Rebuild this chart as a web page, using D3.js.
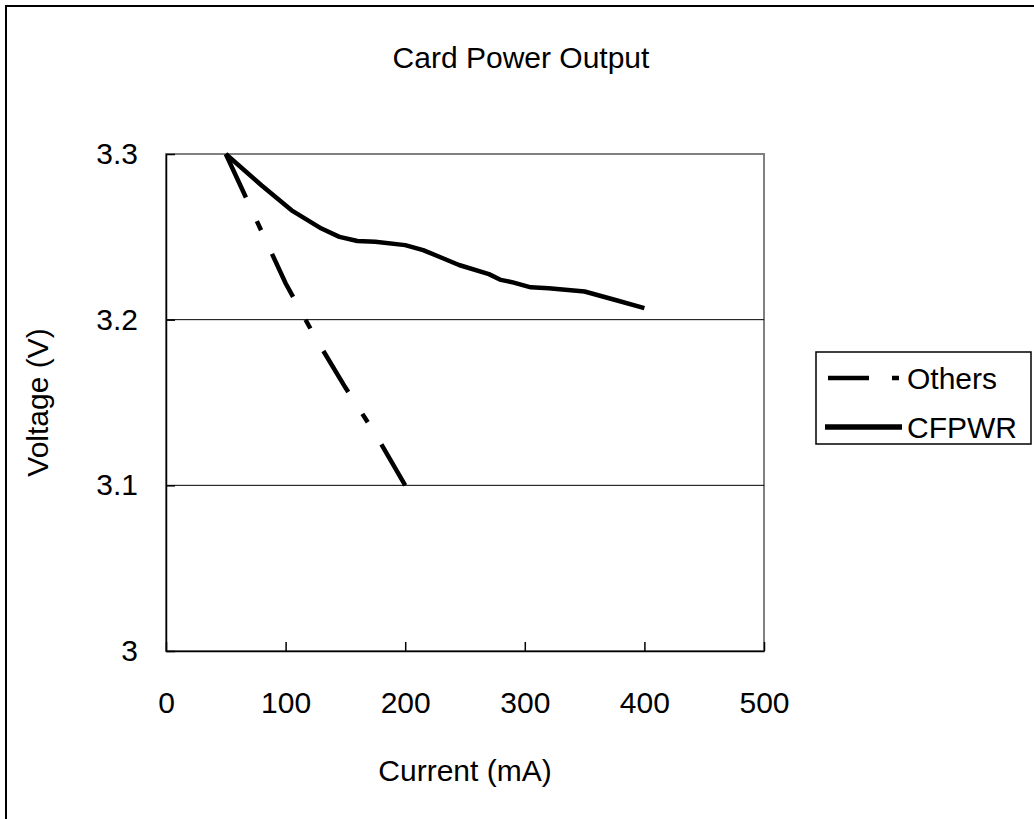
<!DOCTYPE html>
<html>
<head>
<meta charset="utf-8">
<script src="https://cdn.jsdelivr.net/npm/d3@7"></script>
<style>
  body { margin: 0; background: #fff; }
  svg { display: block; font-family: "Liberation Sans", Arial, sans-serif; }
</style>
</head>
<body>
<svg id="chart" width="1034" height="819"></svg>
<script>
// data
const othersData = [
  [50, 3.300], [75, 3.261], [100, 3.222], [125, 3.189],
  [150, 3.159], [175, 3.131], [200, 3.100],
];
const cfpwrData = [
  [50, 3.300], [80, 3.281], [105, 3.266], [130, 3.255], [145, 3.250],
  [160, 3.2475], [175, 3.247], [200, 3.245], [215, 3.242], [230, 3.2375],
  [245, 3.233], [270, 3.2275], [280, 3.224], [290, 3.2225], [305, 3.2195],
  [320, 3.219], [350, 3.217], [375, 3.212], [400, 3.207],
];
const xTicks = [0, 100, 200, 300, 400, 500];
const yTicks = [3, 3.1, 3.2, 3.3];
const yTickLabels = ['3', '3.1', '3.2', '3.3'];
const seriesNames = ['Others', 'CFPWR'];

const svg = d3.select('#chart');
const fontSize = 30;

const x = d3.scaleLinear().domain([0, 500]).range([166, 764]);
const y = d3.scaleLinear().domain([3, 3.3]).range([651, 154]);

// outer chart frame (only left and top edges are visible)
svg.append('rect')
  .attr('x', 6).attr('y', 6)
  .attr('width', 1100).attr('height', 900)
  .attr('fill', 'none')
  .attr('stroke', '#000')
  .attr('stroke-width', 2);

// title
svg.append('text')
  .attr('x', 521).attr('y', 68)
  .attr('text-anchor', 'middle')
  .style('font-size', fontSize + 'px')
  .text('Card Power Output');

// plot frame (grey top / right)
svg.append('rect')
  .attr('x', x(0)).attr('y', y(3.3))
  .attr('width', x(500) - x(0))
  .attr('height', y(3) - y(3.3))
  .attr('fill', 'none')
  .attr('stroke', '#808080')
  .attr('stroke-width', 2);

// gridlines
svg.append('g')
  .selectAll('line')
  .data(yTicks.filter((d) => d > 3 && d < 3.3))
  .join('line')
  .attr('x1', x(0)).attr('x2', x(500))
  .attr('y1', (d) => y(d)).attr('y2', (d) => y(d))
  .attr('stroke', '#000')
  .attr('stroke-width', 1);

// axes, ticks pointing inward
const xAxis = svg.append('g')
  .attr('transform', `translate(0,${y(3)})`)
  .call(
    d3.axisBottom(x)
      .tickValues(xTicks)
      .tickSizeInner(-9)
      .tickSizeOuter(0)
      .tickPadding(41)
      .tickFormat(d3.format('d')),
  );

const yAxis = svg.append('g')
  .attr('transform', `translate(${x(0)},0)`)
  .call(
    d3.axisLeft(y)
      .tickValues(yTicks)
      .tickSizeInner(-9)
      .tickSizeOuter(0)
      .tickPadding(28)
      .tickFormat((d, i) => yTickLabels[i]),
  );

[xAxis, yAxis].forEach((g) => {
  g.select('.domain').attr('stroke', '#000').attr('stroke-width', 1.5);
  g.selectAll('.tick line').attr('stroke', '#000').attr('stroke-width', 1.5);
  g.selectAll('.tick text')
    .attr('fill', '#000')
    .style('font-size', fontSize + 'px')
    .style('font-family', '"Liberation Sans", Arial, sans-serif');
});

// axis titles
svg.append('text')
  .attr('transform', `translate(37,${(y(3) + y(3.3)) / 2}) rotate(-90)`)
  .attr('text-anchor', 'middle')
  .attr('dominant-baseline', 'central')
  .style('font-size', fontSize + 'px')
  .text('Voltage (V)');

svg.append('text')
  .attr('x', (x(0) + x(500)) / 2)
  .attr('y', 781)
  .attr('text-anchor', 'middle')
  .style('font-size', fontSize + 'px')
  .text('Current (mA)');

// series lines
const line = d3.line()
  .x((d) => x(d[0]))
  .y((d) => y(d[1]));

svg.append('path')
  .datum(othersData)
  .attr('d', line)
  .attr('fill', 'none')
  .attr('stroke', '#000')
  .attr('stroke-width', 4.5)
  .attr('stroke-dasharray', '48,26,10,26');

svg.append('path')
  .datum(cfpwrData)
  .attr('d', line)
  .attr('fill', 'none')
  .attr('stroke', '#000')
  .attr('stroke-width', 4.5)
  .attr('stroke-linejoin', 'round');

// legend
const legend = svg.append('g').classed('legend', true);
legend.append('rect')
  .attr('x', 816).attr('y', 352)
  .attr('width', 215).attr('height', 92)
  .attr('fill', '#fff')
  .attr('stroke', '#000')
  .attr('stroke-width', 1.5);

legend.selectAll('.legend-item')
  .data(seriesNames)
  .join('g')
  .classed('legend-item', true)
  .attr('transform', (d, i) => `translate(0, ${378 + 49 * i})`)
  .call((g) =>
    g.append('line')
      .attr('x1', (d, i) => (i === 0 ? 828 : 825))
      .attr('x2', (d, i) => (i === 0 ? 899 : 902))
      .attr('stroke', '#000')
      .attr('stroke-width', (d, i) => (i === 0 ? 4.5 : 5.5))
      .attr('stroke-dasharray', (d, i) => (i === 0 ? '41,23,7' : null)),
  )
  .call((g) =>
    g.append('text')
      .attr('x', 907)
      .attr('y', 11)
      .style('font-size', fontSize + 'px')
      .text((d) => d),
  );
</script>
</body>
</html>
